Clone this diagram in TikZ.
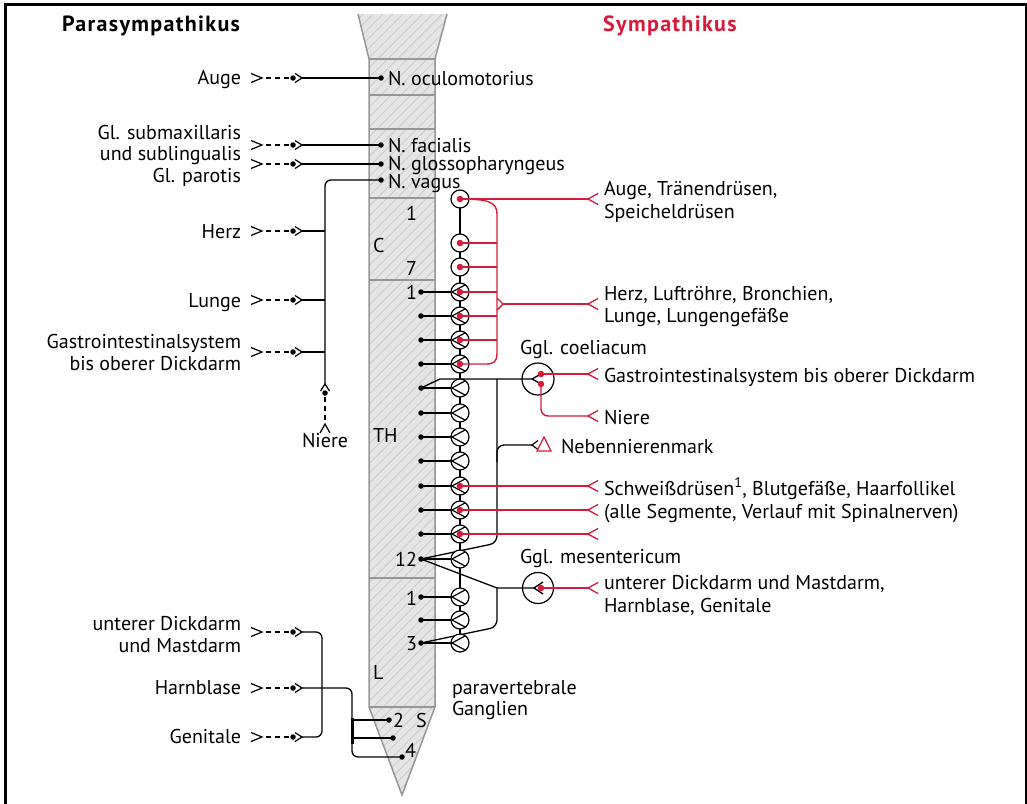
\documentclass[tikz,border=0pt]{standalone}
\usepackage{fontspec}
\setmainfont{PT Sans}
\usetikzlibrary{patterns.meta}
\definecolor{redc}{RGB}{214,26,59}
\definecolor{colfill}{RGB}{229,229,230}
\definecolor{hatchc}{RGB}{203,203,205}
\definecolor{colline}{RGB}{150,150,152}
\tikzset{
  txt/.style={font=\fontsize{20}{22}\selectfont, inner sep=0pt, outer sep=0pt},
  lab/.style={txt, anchor=base east},
  rlab/.style={txt, anchor=base west},
  clab/.style={txt, anchor=base},
  ttl/.style={inner sep=0pt, font=\fontsize{22}{24}\selectfont\bfseries\addfontfeature{LetterSpace=6}, anchor=base west},
  blk/.style={draw=black, line width=1.3pt},
  rln/.style={draw=redc, line width=1.4pt},
  dsh/.style={draw=black, line width=1.2pt, dash pattern=on 5pt off 4pt},
  colln/.style={draw=colline, line width=1.5pt},
  gang/.style={circle, draw=black, fill=white, line width=1.2pt, minimum size=18pt, inner sep=0pt},
  bgang/.style={gang, minimum size=31pt},
  sdot/.style={circle, fill=black, minimum size=5.5pt, inner sep=0pt},
  rdot/.style={circle, fill=redc, minimum size=6.5pt, inner sep=0pt},
  pics/chev/.style 2 args={code={\draw[black, line width=1.2pt] (-#1,-#2) -- (0,0) -- (-#1,#2);}},
  pics/rchev/.style={code={\draw[redc, line width=1.3pt] (10,-5.5) -- (0,0) -- (10,5.5);}},
  pics/gch/.style={code={\draw[black, line width=1.2pt] (5,-7) -- (-8,0) -- (5,7);}},
}
\newcommand\parasym[2]{%
  \pic at (262,#1) {chev={11}{4.5}};
  \draw[dsh] (266,#1) -- (289,#1);
  \node[sdot] (#2dot) at (293,#1) {};
  \pic at (302,#1) {chev={7}{4.5}};
  \coordinate (#2) at (302,#1);
}
\begin{document}
\begin{tikzpicture}[x=1pt,y=-1pt]
\useasboundingbox (0,0) rectangle (1027,803);
% frame
\draw[line width=3pt] (5.5,812) -- (5.5,4.5) -- (1026,4.5) -- (1026,812);
% titles
\node[ttl] (tPara) at (62,31) {Parasympathikus};
\node[ttl, text=redc] (tSym) at (603,31) {Sympathikus};
% spinal column
\path[fill=colfill] (358,14) -- (447,14) -- (435,59) -- (435,707) -- (402,795) -- (369,707) -- (369,59) -- cycle;
\path[pattern={Lines[angle=45,distance=7pt,line width=0.8pt]}, pattern color=hatchc] (358,14) -- (447,14) -- (435,59) -- (435,707) -- (402,795) -- (369,707) -- (369,59) -- cycle;
\draw[colln] (358,14) -- (369,59) -- (369,707) -- (402,795) -- (435,707) -- (435,59) -- (447,14);
\foreach \yy in {59,95,129,198,280,578,707} \draw[colln] (369,\yy) -- (435,\yy);
% column labels
\node[lab] (c1) at (417,220) {1};
\node[rlab] (cC) at (373,252) {C};
\node[lab] (c7) at (417,275) {7};
\node[lab] (th1) at (417,299) {1};
\node[rlab] (cTH) at (373,442) {TH};
\node[lab] (th12) at (417,566) {12};
\node[lab] (l1) at (417,605) {1};
\node[lab] (l3) at (417,650) {3};
\node[rlab] (cL) at (373,679) {L};
\node[rlab] (s2) at (393,727) {2};
\node[rlab] (cS) at (416,727) {S};
\node[rlab] (s4) at (405,757) {4};
% cranial nerve nuclei
\node[sdot] (nOc) at (381,78) {};
\node[sdot] (nFa) at (381,145) {};
\node[sdot] (nGl) at (381,164) {};
\node[sdot] (nVa) at (381,180) {};
\node[rlab] (tOc) at (388,85) {N. oculomotorius};
\node[rlab] (tFa) at (388,152) {N. facialis};
\node[rlab] (tGl) at (388,170) {N. glossopharyngeus};
\node[rlab] (tVa) at (388,188) {N. vagus};
% parasympathetic left labels
\node[lab] (lAuge) at (241,84) {Auge};
\node[lab] (lSub1) at (241,139) {Gl. submaxillaris};
\node[lab] (lSub2) at (241,160) {und sublingualis};
\node[lab] (lPar) at (241,182) {Gl. parotis};
\node[lab] (lHerz) at (241,238) {Herz};
\node[lab] (lLun) at (241,307) {Lunge};
\node[lab] (lGas1) at (241,348) {Gastrointestinalsystem};
\node[lab] (lGas2) at (241,370) {bis oberer Dickdarm};
\node[lab] (lDi1) at (241,630) {unterer Dickdarm};
\node[lab] (lDi2) at (241,652) {und Mastdarm};
\node[lab] (lHar) at (241,694) {Harnblase};
\node[lab] (lGen) at (241,743) {Genitale};
\node[clab] (lNie) at (325,447) {Niere};
\parasym{78}{pAuge}
\parasym{145}{pFa}
\parasym{164}{pGl}
\parasym{231}{pHerz}
\parasym{300}{pLun}
\parasym{352}{pGas}
\parasym{632}{pDi}
\parasym{688}{pHar}
\parasym{737}{pGen}
\draw[blk] (pAuge) -- (nOc.center);
\draw[blk] (pFa) -- (nFa.center);
\draw[blk] (pGl) -- (nGl.center);
\coordinate (vTop) at (325,384);
\draw[blk, rounded corners=6] (nVa.center) -- (325,180) -- (vTop);
\draw[blk] (pHerz) -- (325,231);
\draw[blk] (pLun) -- (325,300);
\draw[blk] (pGas) -- (325,352);
\pic[rotate=90] at (vTop) {chev={7}{4.5}};
\node[sdot] (vDot) at (325,393) {};
\draw[dsh] (325,397) -- (325,420);
\pic[rotate=90] at (325,424) {chev={9}{5}};
% sacral
\node[sdot] (dS2) at (389,720) {};
\node[sdot] (dS3) at (393,738) {};
\node[sdot] (dS4) at (402,757) {};
\draw[blk, rounded corners=6] (pDi) -- (322,632) -- (322,737) -- (pGen);
\draw[blk, rounded corners=6] (pHar) -- (352,688) -- (352,757) -- (dS4.center);
\draw[blk] (352,720) -- (dS2.center);
\draw[blk] (352,738) -- (dS3.center);
\draw[black, line width=3pt] (352,718) -- (352,744);
% sympathetic chain
\draw[blk] (460,199) -- (460,643);
\foreach \yy in {292,316,340,364,388,413,437,461,486,510,534,559,597,620,643}{
  \node[sdot] (d\yy) at (421,\yy) {};
}
% coeliacum / mesentericum inputs
\node[bgang, minimum size=32pt] (coel) at (538,379) {};
\node[bgang] (mes) at (538,588) {};
\coordinate (j1) at (440,379);
\coordinate (j2) at (497,379);
\coordinate (j3) at (497,588);
\coordinate (nnk) at (532,445);
\draw[blk] (d388.center) -- (j1) -- (532,379);
\draw[blk] (541,374) -- (532,379) -- (541,384);
\draw[blk, rounded corners=7] (d559.center) -- (497,543) -- (j2);
\draw[blk, rounded corners=7] (497,462) -- (497,445) -- (nnk);
\pic[rotate=180] at (nnk) {chev={6}{4.5}};
\draw[redc, line width=1.3pt] (544,437) -- (551,451) -- (537,451) -- cycle;
\draw[blk] (d559.center) -- (j3) -- (534,588);
\draw[blk, rounded corners=7] (d643.center) -- (497,627) -- (j3);
\draw[blk] (543,582) -- (534,588) -- (543,594);
\foreach \yy in {292,316,340,364,388,413,437,461,486,510,534,559,597,620,643}{
  \draw[blk] (d\yy.center) -- (451,\yy);
}
\foreach \yy in {199,243,267,292,316,340,364,388,413,437,461,486,510,534,559,597,620,643}{
  \node[gang] (g\yy) at (460,\yy) {};
}
\foreach \yy in {292,316,340,364,388,413,437,461,486,510,534,559,597,620,643}{
  \pic at (g\yy) {gch};
}
\foreach \yy in {199,243,267,292,316,340,364,486,510,534}{
  \node[rdot] (r\yy) at (g\yy) {};
}
% red connections
\coordinate (eAuge) at (588,199);
\coordinate (eHerz) at (588,304);
\coordinate (eGas) at (588,374);
\coordinate (eNie) at (588,416);
\coordinate (eS1) at (588,486);
\coordinate (eS2) at (588,510);
\coordinate (eS3) at (588,534);
\coordinate (eMes) at (588,588);
\coordinate (bt) at (503,304);
\draw[rln] (r199.center) -- (eAuge);
\draw[rln] (r199.center) .. controls (488,199) and (497,202) .. (497,214) -- (497,354) .. controls (497,361) and (494,364) .. (486,364) -- (r364.center);
\foreach \yy in {243,267,292,316,340}{ \draw[rln] (r\yy.center) -- (497,\yy); }
\draw[rln] (497,298) -- (bt) -- (497,310);
\draw[rln] (bt) -- (eHerz);
\node[rdot] (rc1) at (541,374) {};
\node[rdot] (rc2) at (541,384) {};
\node[rdot] (rm) at (541,588) {};
\draw[rln] (rc1.center) -- (eGas);
\draw[rln, rounded corners=7] (rc2.center) -- (541,416) -- (eNie);
\draw[rln] (r486.center) -- (eS1);
\draw[rln] (r510.center) -- (eS2);
\draw[rln] (r534.center) -- (eS3);
\draw[rln] (rm.center) -- (eMes);
\foreach \e in {eAuge,eHerz,eGas,eNie,eS1,eS2,eS3,eMes}{ \pic at (\e) {rchev}; }
% right labels
\node[rlab] (rA1) at (604,195) {Auge, Tränendrüsen,};
\node[rlab] (rA2) at (604,218) {Speicheldrüsen};
\node[rlab] (rH1) at (604,300) {Herz, Luftröhre, Bronchien,};
\node[rlab] (rH2) at (604,322) {Lunge, Lungengefäße};
\node[rlab] (rCo) at (520,354) {Ggl. coeliacum};
\node[rlab] (rGa) at (604,382) {Gastrointestinalsystem bis oberer Dickdarm};
\node[rlab] (rNi) at (604,424) {Niere};
\node[rlab] (rNn) at (561,453) {Nebennierenmark};
\node[rlab] (rSc1) at (604,495) {Schweißdrüsen\textsuperscript{1}, Blutgefäße, Haarfollikel};
\node[rlab] (rSc2) at (604,518) {(alle Segmente, Verlauf mit Spinalnerven)};
\node[rlab] (rMe) at (520,563) {Ggl. mesentericum};
\node[rlab] (rU1) at (604,589) {unterer Dickdarm und Mastdarm,};
\node[rlab] (rU2) at (604,612) {Harnblase, Genitale};
\node[rlab] (rP1) at (452,694) {paravertebrale};
\node[rlab] (rP2) at (452,715) {Ganglien};
\end{tikzpicture}
\end{document}
